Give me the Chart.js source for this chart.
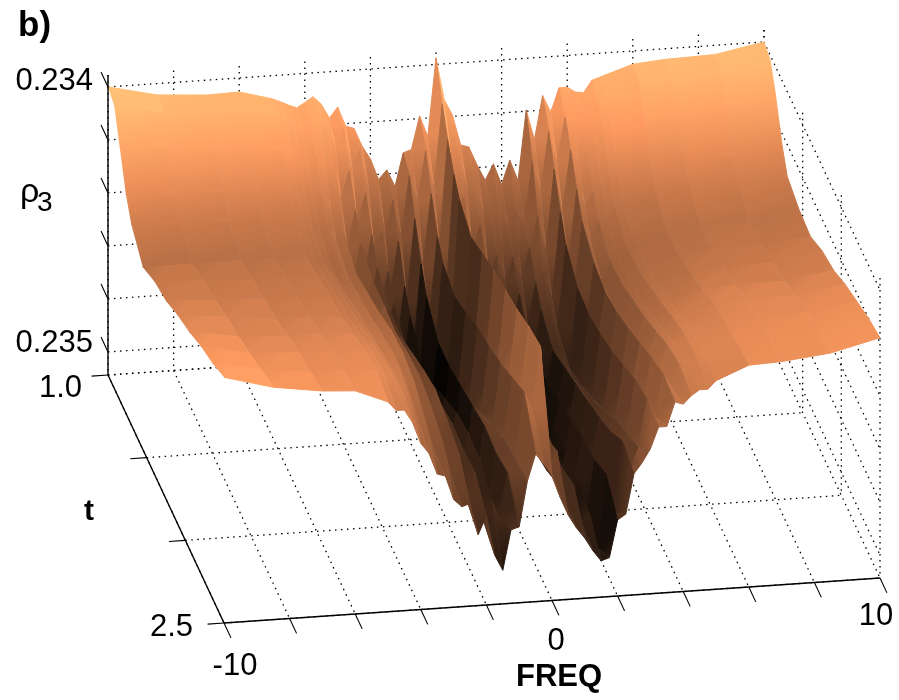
<!DOCTYPE html>
<html>
<head>
<meta charset="utf-8">
<title>rho3 surface</title>
<style>
  body { margin: 0; background: #fff; }
  #chart { display: block; }
</style>
<script src="https://cdn.jsdelivr.net/npm/chart.js@4"></script>
</head>
<body>
<canvas id="chart" width="899" height="700"></canvas>
<script>
// surface. rows are t, columns are FREQ,
// values are rho3 above 0.234 in units of 0.0001 (axis is reversed, 0.234 on top)
const freqs = [-10, -8.5, -7, -6,
  -5, -4.75, -4.5, -4.25, -4, -3.75, -3.5, -3.25, -3,
  -2.75, -2.5, -2.25, -2, -1.75, -1.5, -1.25, -1,
  -0.75, -0.5, -0.25, 0,
  0.25, 0.5, 0.75, 1, 1.25, 1.5, 1.75, 2,
  2.25, 2.5, 2.75, 3, 3.25, 3.5, 3.75, 4,
  4.25, 4.5, 4.75, 5,
  6, 7, 8.5, 10];
const times = [1.0, 1.08, 1.15, 1.23, 1.3, 1.45, 1.6, 1.75, 1.9, 2.05, 2.2, 2.35, 2.5];

const rhoT100 = [0, .43, .56, .53, .87, 1.0, 1.15, 1.28, 1.1, .9, 1.2, 1.75, 1.35, 2.1, 2.2, 2.9, 3.4, 4.2, 3.85, 4.5, 3.25, 3.15, 1.9, 2.7, -.25, 1.35, 1.95, 3.1, 3.2, 3.9, 4.5, 3.9, 4.7, 3.8, 4.6, 1.95, 3.1, 1.45, 2.1, 1.2, 1.2, 1.4, 1.45, 1.0, .9, .5, .4, .35, 0];
const rhoT108 = [.2, .6, .7, .7, 1.0, 1.2, 1.4, 1.6, 1.3, 1.2, 1.5, 2.4, 1.7, 3.2, 2.5, 4.0, 3.9, 5.7, 4.5, 5.9, 3.6, 4.6, 2.7, 4.2, 1.0, 2.9, 2.8, 4.2, 4.1, 5.2, 5.3, 5.2, 5.7, 5.2, 5.6, 3.4, 4.6, 2.3, 3.5, 1.8, 1.9, 1.9, 1.8, 1.4, 1.2, .7, .6, .45, .2];
const rhoT115 = [1.3, 1.5, 1.6, 1.7, 1.9, 2.1, 2.3, 2.5, 2.2, 2.5, 2.6, 3.9, 2.8, 4.9, 3.7, 5.8, 5.2, 7.6, 5.6, 7.9, 4.8, 6.6, 3.9, 6.0, 1.9, 4.8, 4.1, 6.2, 5.2, 7.2, 6.4, 7.4, 6.5, 7.3, 6.2, 5.0, 6.4, 3.3, 5.0, 2.6, 3.0, 2.7, 2.5, 2.1, 1.9, 1.5, 1.4, 1.3, 1.1];
const rhoT123 = [2.6, 2.7, 2.8, 2.9, 3.0, 3.1, 3.3, 3.5, 3.2, 3.7, 3.6, 5.2, 3.8, 6.5, 4.8, 7.6, 6.2, 9.2, 6.8, 9.6, 6.0, 8.2, 5.0, 7.5, 2.7, 6.6, 5.4, 8.0, 6.5, 8.9, 7.6, 8.8, 7.4, 8.6, 7.0, 6.6, 7.7, 4.4, 6.3, 3.6, 4.3, 3.7, 3.5, 3.2, 3.0, 2.8, 2.6, 2.7, 2.4];
const rhoT130 = [3.3, 3.4, 3.5, 3.5, 3.6, 3.7, 3.9, 4.1, 3.9, 4.5, 4.3, 6.0, 4.6, 7.3, 5.6, 8.4, 7.0, 9.9, 7.5, 10.2, 6.8, 8.9, 5.6, 8.0, 3.2, 7.4, 6.2, 8.8, 7.2, 9.8, 8.2, 9.6, 8.0, 9.2, 7.6, 7.4, 8.4, 5.2, 7.0, 4.4, 5.1, 4.4, 4.3, 3.9, 3.8, 3.5, 3.3, 3.3, 3.2];
const rhoT145 = [4.0, 4.0, 4.0, 4.0, 4.1, 4.2, 4.3, 4.6, 4.4, 4.9, 4.8, 6.3, 5.1, 7.7, 6.2, 9.0, 7.6, 10.3, 8.2, 10.6, 7.6, 9.2, 5.9, 8.2, 3.7, 8.4, 7.0, 9.6, 8.0, 10.5, 8.9, 10.2, 8.6, 9.8, 8.2, 8.2, 8.9, 5.9, 7.6, 5.0, 5.8, 5.0, 4.9, 4.5, 4.4, 4.1, 3.9, 3.9, 3.5];
const rhoT160 = [3.6, 3.7, 3.8, 3.8, 3.9, 4.0, 4.1, 4.4, 4.2, 4.7, 4.6, 5.9, 5.1, 7.2, 6.3, 8.7, 7.6, 9.9, 8.2, 10.3, 7.6, 8.6, 5.6, 7.4, 3.4, 8.6, 7.4, 9.6, 8.2, 10.3, 8.9, 10.0, 8.5, 9.6, 7.9, 8.3, 8.6, 6.0, 7.2, 5.2, 5.7, 4.9, 4.8, 4.4, 4.3, 4.0, 3.8, 3.8, 3.6];
const rhoT175 = [3.4, 3.5, 3.6, 3.6, 3.7, 3.8, 3.9, 4.1, 4.0, 4.6, 4.4, 5.7, 5.2, 6.9, 6.0, 8.3, 7.2, 9.5, 7.8, 10.0, 7.4, 8.1, 5.2, 6.6, 3.1, 8.3, 7.2, 9.5, 8.0, 10.0, 8.6, 9.7, 8.2, 9.2, 7.6, 8.0, 8.2, 5.8, 6.9, 5.0, 5.5, 4.6, 4.6, 4.1, 4.1, 3.7, 3.6, 3.5, 3.2];
const rhoT190 = [3.0, 3.2, 3.4, 3.4, 3.5, 3.6, 3.7, 3.9, 3.8, 4.3, 4.1, 5.5, 5.0, 6.6, 5.7, 8.0, 7.0, 9.0, 7.4, 9.5, 7.2, 7.5, 5.0, 5.9, 2.9, 8.0, 6.9, 8.9, 7.8, 9.8, 8.3, 9.5, 8.0, 9.0, 7.3, 7.8, 7.7, 5.5, 6.5, 4.7, 5.2, 4.3, 4.3, 3.8, 3.8, 3.4, 3.3, 3.3, 3.0];
const rhoT205 = [2.7, 3.0, 3.1, 3.1, 3.2, 3.3, 3.4, 3.7, 3.6, 4.1, 4.0, 5.4, 4.9, 6.5, 5.5, 7.9, 6.8, 8.8, 7.2, 9.2, 7.0, 7.0, 4.7, 5.2, 2.7, 7.8, 6.7, 8.2, 7.7, 9.4, 8.2, 9.3, 7.7, 8.7, 7.0, 7.5, 7.1, 5.1, 5.9, 4.3, 4.8, 3.9, 3.9, 3.4, 3.4, 3.0, 2.9, 2.9, 2.6];
const rhoT220 = [2.3, 2.7, 2.8, 2.8, 2.9, 3.0, 3.2, 3.5, 3.5, 4.2, 4.2, 5.5, 5.1, 6.8, 5.7, 8.0, 6.9, 8.9, 7.3, 9.0, 7.1, 6.6, 4.3, 4.8, 2.4, 7.2, 6.6, 8.2, 7.8, 9.6, 8.4, 9.8, 7.6, 8.7, 6.6, 7.2, 6.7, 4.7, 5.5, 3.9, 4.4, 3.5, 3.5, 3.1, 3.1, 2.8, 2.7, 2.6, 2.3];
const rhoT235 = [2.0, 2.4, 2.6, 2.6, 2.7, 2.9, 3.0, 3.4, 3.8, 4.6, 4.8, 5.9, 5.5, 6.8, 6.0, 7.8, 6.8, 8.6, 7.9, 8.6, 6.9, 6.4, 3.9, 4.6, 2.2, 6.8, 6.2, 8.2, 7.5, 9.0, 8.7, 10.0, 7.2, 8.7, 6.0, 7.0, 6.3, 4.5, 5.2, 3.6, 4.1, 3.3, 3.3, 3.0, 2.9, 2.6, 2.5, 2.4, 2.0];
const rhoT250 = [1.6, 2.1, 2.37, 2.45, 2.95, 3.3, 3.3, 3.8, 4.6, 5, 5.8, 5.9, 6.8, 7.1, 7, 8.2, 7.5, 9, 9.6, 8.1, 8, 6.3, 5.3, 5.7, 6.1, 7, 7.7, 8.2, 8.6, 9.1, 9.5, 9.4, 8, 7.8, 6.3, 5.9, 5.4, 4.6, 4.6, 3.7, 3.8, 3.5, 3.3, 3.3, 3, 2.5, 2.45, 2.25, 1.8];
const rhoRows = [rhoT100, rhoT108, rhoT115, rhoT123, rhoT130, rhoT145, rhoT160, rhoT175, rhoT190, rhoT205, rhoT220, rhoT235, rhoT250];

// axis ticks
const freqTicks = [-10, -8, -6, -4, -2, 0, 2, 4, 6, 8, 10];
const freqLabels = { '-10': [11, 43], '0': [4, 41], '10': [-4, 38] };
const timeTicks = [1.0, 1.5, 2.0, 2.5];
const rhoTicks = [0, 2, 4, 6, 8, 10];
const rhoTop = -0.45;
const rhoFloor = 10.87;

// fixed view of the 3d box onto the flat x/y scales
function project(f, t, d) {
  const v = (f + 10) / 20;
  const u = (t - 1) / 1.5;
  return {
    x: 108 + 656 * v + 116 * u,
    y: 375 - 45 * v + 248 * u - (rhoFloor - d) * 26.5
  };
}

// matlab copper map, stretched so the trench stays brown and only the bottom goes black
function copper(d) {
  const level = d < 4 ? 1 - d * 0.105 : 0.58 - (d - 4) * 0.085;
  const c = Math.max(0, Math.min(1, level));
  const r = Math.min(255, 255 * 1.25 * c);
  const g = 255 * 0.7812 * c * 0.97;
  const b = 255 * 0.47 * c;
  return `rgb(${Math.round(r)},${Math.round(g)},${Math.round(b)})`;
}

const datasets = [];

function addLine(a, b, dotted, width) {
  datasets.push({
    data: [a, b],
    showLine: true,
    fill: false,
    pointRadius: 0,
    borderColor: '#000',
    borderWidth: width,
    borderDash: dotted ? [1.5, 4.5] : [],
    borderCapStyle: 'butt'
  });
}

// back wall, right wall, floor
rhoTicks.forEach(d => {
  addLine(project(-10, 1, d), project(10, 1, d), true, 1.3);
  addLine(project(10, 1, d), project(10, 2.5, d), true, 1.3);
});
addLine(project(-10, 1, rhoFloor), project(10, 1, rhoFloor), true, 1.3);
freqTicks.forEach(f => {
  addLine(project(f, 1, rhoTop), project(f, 1, rhoFloor), true, 1.3);
  addLine(project(f, 1, rhoFloor), project(f, 2.5, rhoFloor), true, 1.3);
});
timeTicks.forEach(t => {
  addLine(project(-10, t, rhoFloor), project(10, t, rhoFloor), true, 1.3);
  addLine(project(10, t, rhoTop), project(10, t, rhoFloor), true, 1.3);
});

// flat across a column like matlab shading, shaded only along t
function patchFill(a, b, da, db) {
  return function (context) {
    const chart = context.chart;
    const sx = chart.scales.x, sy = chart.scales.y;
    if (!sx || !sy || da === db) return copper(da);
    const x0 = sx.getPixelForValue(a.x), y0 = sy.getPixelForValue(a.y);
    const x1 = sx.getPixelForValue(b.x), y1 = sy.getPixelForValue(b.y);
    // scales have no size yet on the first pass
    if (![x0, y0, x1, y1].every(Number.isFinite)) return copper(da);
    const g = chart.ctx.createLinearGradient(x0, y0, x1, y1);
    g.addColorStop(0, copper(da));
    g.addColorStop(1, copper(db));
    return g;
  };
}

// surface patches, back row first, right to left inside a row
for (let r = 0; r < times.length - 1; r++) {
  for (let c = freqs.length - 2; c >= 0; c--) {
    const cells = [[r, c], [r, c + 1], [r + 1, c + 1], [r + 1, c]];
    const values = cells.map(p => rhoRows[p[0]][p[1]]);
    const corners = cells.map((p, i) => project(freqs[p[1]], times[p[0]], values[i]));
    const paint = patchFill(corners[0], corners[3], values[0], values[3]);
    datasets.push({
      data: corners,
      showLine: true,
      fill: 'shape',
      pointRadius: 0,
      borderWidth: 1,
      backgroundColor: paint,
      borderColor: paint
    });
  }
}

// solid axes and tick marks go on top
addLine(project(-10, 1, rhoTop), project(-10, 1, rhoFloor), false, 1.4);
addLine(project(-10, 1, rhoFloor), project(-10, 2.5, rhoFloor), false, 1.4);
addLine(project(-10, 2.5, rhoFloor), project(10, 2.5, rhoFloor), false, 1.4);
rhoTicks.forEach(d => addLine(project(-10, 1, d), project(-10, 0.91, d), false, 1.1));
timeTicks.forEach(t => addLine(project(-10, t, rhoFloor), project(-10.5, t, rhoFloor), false, 1.1));
freqTicks.forEach(f => addLine(project(f, 2.5, rhoFloor), project(f, 2.59, rhoFloor), false, 1.1));

// chart.js paints high order first
datasets.forEach((ds, i) => { ds.order = datasets.length - i; });

const textPlugin = {
  id: 'boxText',
  afterDraw(chart) {
    const ctx = chart.ctx;
    const sx = chart.scales.x, sy = chart.scales.y;
    const put = (text, p, dx, dy, font, align) => {
      ctx.font = font;
      ctx.textAlign = align;
      ctx.textBaseline = 'middle';
      ctx.fillStyle = '#000';
      ctx.fillText(text, sx.getPixelForValue(p.x) + dx, sy.getPixelForValue(p.y) + dy);
    };
    const num = '31px "Liberation Sans"';
    const bold = 'bold 30px "Liberation Sans"';
    ctx.save();
    put('0.234', project(-10, 1, 0), -15, -5, num, 'right');
    put('0.235', project(-10, 1, 10), -15, -8, num, 'right');
    put('1.0', project(-10, 1, rhoFloor), -26, 13, num, 'right');
    put('2.5', project(-10, 2.5, rhoFloor), -31, 4, num, 'right');
    Object.keys(freqLabels).forEach(k => {
      const off = freqLabels[k];
      put(k, project(Number(k), 2.5, rhoFloor), off[0], off[1], num, 'center');
    });
    put('b)', { x: 18, y: 26 }, 0, 0, 'bold 35px "Liberation Sans"', 'left');
    put('ρ', { x: 20, y: 193 }, 0, 0, '34px "Liberation Sans"', 'left');
    put('3', { x: 37, y: 203 }, 0, 0, '28px "Liberation Sans"', 'left');
    put('t', { x: 89, y: 512 }, 0, 0, bold, 'center');
    put('FREQ', { x: 559, y: 677 }, 0, 0, 'bold 31px "Liberation Sans"', 'center');
    ctx.restore();
  }
};

new Chart(document.getElementById('chart'), {
  type: 'scatter',
  data: { datasets },
  options: {
    responsive: false,
    animation: false,
    events: [],
    layout: { padding: 0 },
    scales: {
      x: { type: 'linear', min: 0, max: 899, display: false },
      y: { type: 'linear', min: 0, max: 700, reverse: true, display: false }
    },
    plugins: {
      legend: { display: false },
      tooltip: { enabled: false }
    }
  },
  plugins: [textPlugin]
});
</script>
</body>
</html>
